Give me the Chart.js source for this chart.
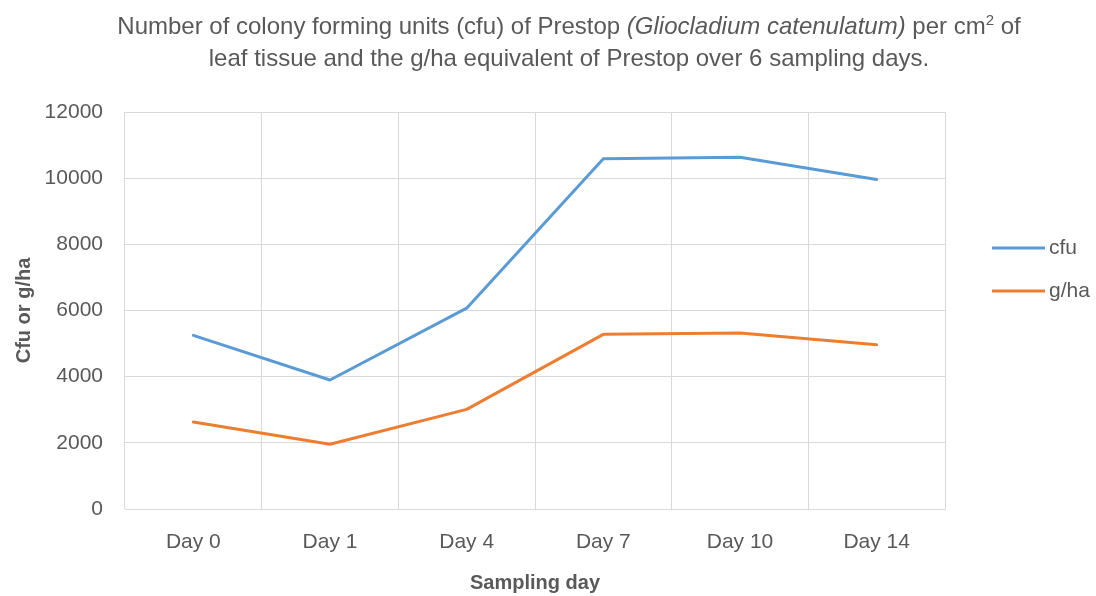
<!DOCTYPE html>
<html>
<head>
<meta charset="utf-8">
<script src="https://cdn.jsdelivr.net/npm/chart.js@4"></script>
<style>
  html, body { margin: 0; padding: 0; background: #fff; }
  #wrap { position: relative; width: 1096px; height: 596px; }
  #title {
    position: absolute; left: 69px; top: 10px; width: 1000px;
    text-align: center; color: #595959;
    font-family: "Liberation Sans", Arial, sans-serif; font-size: 24px; line-height: 32px;
  }
  #title sup { font-size: 15px; line-height: 0; vertical-align: 9px; }
  canvas { position: absolute; left: 0; top: 0; }
</style>
</head>
<body>
<div id="wrap">
  <canvas id="myChart" width="1096" height="596"></canvas>
  <div id="title">Number of colony forming units (cfu) of Prestop <i>(Gliocladium catenulatum)</i> per cm<sup>2</sup> of<br>leaf tissue and the g/ha equivalent of Prestop over 6 sampling days.</div>
</div>
<script>
// sampling days and values
var days = ["Day 0", "Day 1", "Day 4", "Day 7", "Day 10", "Day 14"];
var cfu = [5250, 3900, 6070, 10590, 10630, 9960];
var gha = [2630, 1955, 3010, 5280, 5320, 4965];
var yTicks = [0, 2000, 4000, 6000, 8000, 10000, 12000];

var fontFam = '"Liberation Sans", Arial, sans-serif';
var grey = '#595959';
var gridCol = '#d9d9d9';

// legend drawn at the right side, like the excel one
var sideLegend = {
  id: 'sideLegend',
  afterDraw: function (chart) {
    var ctx = chart.ctx;
    ctx.save();
    chart.data.datasets.forEach(function (ds, i) {
      var y = 248 + i * 43;
      ctx.strokeStyle = ds.borderColor;
      ctx.lineWidth = 3;
      ctx.beginPath();
      ctx.moveTo(992, y);
      ctx.lineTo(1045, y);
      ctx.stroke();
      ctx.fillStyle = grey;
      ctx.font = '21px ' + fontFam;
      ctx.textBaseline = 'middle';
      ctx.textAlign = 'left';
      ctx.fillText(ds.label, 1049, y);
    });
    ctx.restore();
  }
};

var ctx = document.getElementById('myChart');
var myChart = new Chart(ctx, {
  type: 'line',
  data: {
    labels: days,
    datasets: [{
      label: 'cfu',
      data: cfu,
      borderColor: '#5B9BD5',
      backgroundColor: '#5B9BD5',
      borderWidth: 3,
      pointRadius: 0,
      tension: 0,
      borderCapStyle: 'round',
      borderJoinStyle: 'round'
    }, {
      label: 'g/ha',
      data: gha,
      borderColor: '#ED7D31',
      backgroundColor: '#ED7D31',
      borderWidth: 3,
      pointRadius: 0,
      tension: 0,
      borderCapStyle: 'round',
      borderJoinStyle: 'round'
    }]
  },
  options: {
    responsive: false,
    devicePixelRatio: 1,
    animation: { duration: 0 },
    layout: { padding: { top: 112, right: 151, left: 0, bottom: 0 } },
    plugins: {
      legend: { display: false },
      tooltip: { enabled: false }
    },
    scales: {
      x: {
        offset: true,
        grid: { color: gridCol, offset: true, drawTicks: false, lineWidth: 1 },
        border: { color: gridCol },
        ticks: { color: grey, font: { family: fontFam, size: 21 }, padding: 21, maxRotation: 0 },
        title: {
          display: true, text: 'Sampling day', color: grey,
          font: { family: fontFam, size: 20, weight: 'bold' },
          padding: { top: 0, bottom: 1 }
        },
        afterFit: function (scale) { scale.height = 87; }
      },
      y: {
        min: 0,
        max: 12000,
        afterBuildTicks: function (scale) {
          scale.ticks = yTicks.map(function (v) { return { value: v }; });
        },
        grid: { color: gridCol, drawTicks: false },
        border: { display: false },
        ticks: {
          color: grey, font: { family: fontFam, size: 21 }, padding: 22,
          callback: function (val) { return String(val); }
        },
        title: {
          display: true, text: 'Cfu or g/ha', color: grey,
          font: { family: fontFam, size: 20, weight: 'bold' },
          padding: { top: 12, bottom: 0 }
        },
        afterFit: function (scale) { scale.width = 125; }
      }
    }
  },
  plugins: [sideLegend]
});
</script>
</body>
</html>
